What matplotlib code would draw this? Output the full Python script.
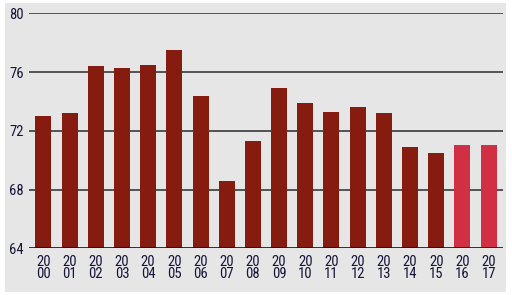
import matplotlib
matplotlib.use("Agg")
import matplotlib.pyplot as plt
from matplotlib.patches import Rectangle

years = ["2000", "2001", "2002", "2003", "2004", "2005", "2006", "2007", "2008",
         "2009", "2010", "2011", "2012", "2013", "2014", "2015", "2016", "2017"]
values = [73.0, 73.2, 76.4, 76.3, 76.5, 77.5, 74.4, 68.6, 71.3,
          74.9, 73.9, 73.3, 73.6, 73.2, 70.9, 70.5, 71.0, 71.0]
projected = [False] * 16 + [True, True]
yticks = [64, 68, 72, 76, 80]

dark = "#861b10"
light = "#d12f43"
bg = "#e6e6e6"
txt = "#15153a"

W, H = 512, 295
fig = plt.figure(figsize=(W / 100, H / 100), dpi=100)
fig.patch.set_facecolor("white")
fig.add_artist(Rectangle((5 / W, 3 / H), (506 - 5) / W, (292 - 3) / H,
                         transform=fig.transFigure, facecolor=bg,
                         edgecolor="none", zorder=-10))

left, right = 29.3 / W, 503 / W
top, bottom = 1 - 13.3 / H, 1 - 248.3 / H
ax = fig.add_axes([left, bottom, right - left, top - bottom])
ax.set_zorder(5)
ax.set_facecolor("none")

x = list(range(len(years)))
colors = [light if p else dark for p in projected]
ax.bar(x, [v - 64 for v in values], bottom=64, width=0.61, color=colors,
       edgecolor="none", zorder=3)

ax.set_ylim(64, 80)
ax.set_xlim(-0.54, len(years) - 1 + 0.55)
ax.set_yticks(yticks)
for t in yticks[1:]:
    ax.axhline(t, color="#3a3a3a", lw=1.2, zorder=1)
ax.axhline(64, color="#111111", lw=1.2, zorder=4)

for s in ax.spines.values():
    s.set_visible(False)

fam = ["Roboto Condensed", "DejaVu Sans"]
ax.set_xticks(x)
ax.set_xticklabels([y[:2] + "\n" + y[2:] for y in years], fontsize=10.5,
                   family=fam, weight="normal", color=txt, linespacing=0.78)
ax.set_yticklabels([str(t) for t in yticks], fontsize=10.5, family=fam,
                   weight="normal", color=txt)
ax.tick_params(axis="x", length=0, pad=5)
ax.tick_params(axis="y", length=0, pad=4)

fig.savefig("out.png", dpi=100, facecolor="white")
